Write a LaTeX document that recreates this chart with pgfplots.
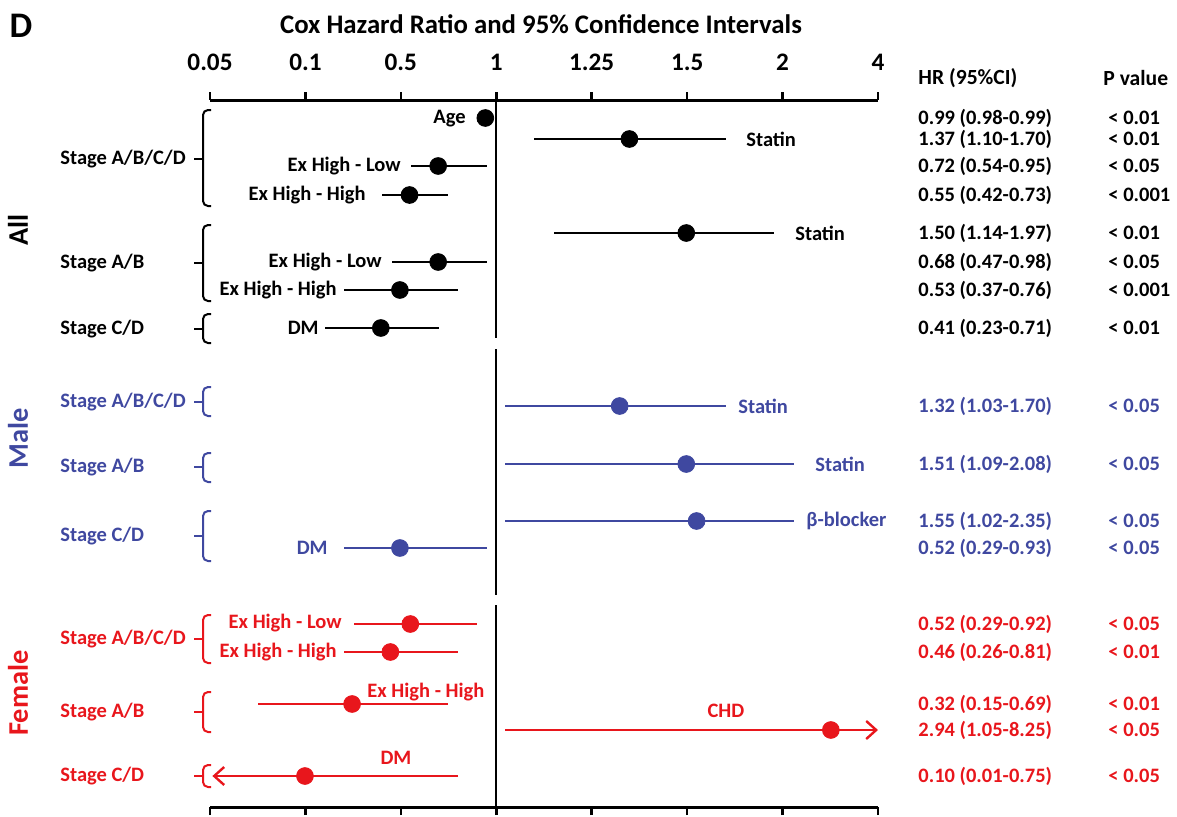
\documentclass[border=0pt]{standalone}
\usepackage{fontspec}
\setmainfont{Carlito}
\usepackage{pgfplots}
\usepackage{pgfplotstable}
\pgfplotsset{compat=1.18}
\usetikzlibrary{arrows.meta}

\definecolor{mblue}{RGB}{63,72,160}
\definecolor{fred}{RGB}{232,22,28}
\newcommand{\fs}[1]{\fontsize{#1}{#1}\selectfont\bfseries}

% x in tick-index units: 0.05=0, 0.1=1, 0.5=2, 1=3, 1.25=4, 1.5=5, 2=6, 4=7
% y = 812 - pixel row of the reference
\pgfplotstableread{
y lo hr hi
694 2.885 2.885 2.885
673 3.395 4.395 5.404
646 2.110 2.391 2.901
617 1.801 2.091 2.499
579 3.606 4.991 5.911
550 1.910 2.391 2.901
522 1.408 1.990 2.600
484 1.200 1.790 2.400
}\allrows
\pgfplotstableread{
y lo hr hi
406 3.096 4.293 5.404
348 3.096 4.991 6.120
291 3.096 5.099 6.120
264 1.408 1.990 2.901
}\malerows
\pgfplotstableread{
y lo hr hi
188 1.509 2.099 2.800
160 1.408 1.890 2.600
108 0.506 1.489 2.499
}\femrows
\pgfplotstableread{
y hr
82 6.506
36 0.995
}\femarrows

\tikzset{px/.style={x=0.5pt, y=-0.5pt, shift={(-105pt,403.5pt)}}}
\pgfplotsset{ci/.style={only marks, mark=*, mark size=4.2pt,
    error bars/.cd, x dir=both, x explicit, error mark=none,
    error bar style={line width=1.2pt}}}
\newcommand{\brk}[4]{\draw[#1, line width=1pt, rounded corners=2.5pt]
  (211,#2) -- (203,#2) -- (203,#4) -- (211,#4);
  \draw[#1, line width=1pt] (194,#3) -- (203,#3);}

\begin{document}
\begin{tikzpicture}
\begin{scope}[px]
\path[use as bounding box] (0,0) rectangle (1177,812);
\end{scope}

\begin{axis}[
    at={(0,0)}, anchor=south west,
    scale only axis, width=334pt, height=353.5pt,
    xmin=0, xmax=7, ymin=5, ymax=712,
    axis x line=box, axis y line=none,
    xtick={0,...,7},
    xticklabels={0.05,0.1,0.5,1,1.25,1.5,2,4},
    xticklabel pos=upper,
    ytick=\empty,
    tick align=outside, major tick length=4pt,
    axis line style={line width=1.5pt},
    every tick/.style={black, line width=1.3pt},
    xticklabel style={font=\fs{12.6}, yshift=7pt},
    clip=false,
]
% reference line at HR = 1
\addplot[black, line width=1.2pt] coordinates {(3,712) (3,474)};
\addplot[black, line width=1.2pt] coordinates {(3,463) (3,217)};
\addplot[black, line width=1.2pt] coordinates {(3,207) (3,5)};

\addplot[black, ci] table[x=hr, y=y,
    x error plus expr=\thisrow{hi}-\thisrow{hr},
    x error minus expr=\thisrow{hr}-\thisrow{lo}] {\allrows};
\addplot[mblue, ci] table[x=hr, y=y,
    x error plus expr=\thisrow{hi}-\thisrow{hr},
    x error minus expr=\thisrow{hr}-\thisrow{lo}] {\malerows};
\addplot[fred, ci] table[x=hr, y=y,
    x error plus expr=\thisrow{hi}-\thisrow{hr},
    x error minus expr=\thisrow{hr}-\thisrow{lo}] {\femrows};
% intervals running off the scale
\addplot[fred, line width=1.2pt, -{Straight Barb[length=5pt,width=9pt]}]
    coordinates {(3.096,82) (7.0,82)};
\addplot[fred, line width=1.2pt, -{Straight Barb[length=5pt,width=9pt]}]
    coordinates {(2.600,36) (0.025,36)};
\addplot[fred, only marks, mark=*, mark size=4.2pt] table[x=hr, y=y] {\femarrows};
\end{axis}

\begin{scope}[px]
\node[font=\fs{18}] at (21,26) {D};
\node[font=\fs{13.4}] at (541,24) {Cox Hazard Ratio and 95\% Confidence Intervals};
\node[font=\fs{10.8}, anchor=west, inner sep=0] at (918,78) {HR (95\%CI)};
\node[font=\fs{10.8}, anchor=west, inner sep=0] at (1103,78) {P value};

% group labels
\node[rotate=90, font=\fs{14.2}] at (18,230) {All};
\node[rotate=90, font=\fs{14.2}, mblue] at (18,438) {Male};
\node[rotate=90, font=\fs{14.2}, fred] at (18,693) {Female};

% brackets and stage labels
\brk{black}{110}{159}{206}
\brk{black}{225}{263}{301}
\brk{black}{314}{329}{343}
\brk{mblue}{387}{402}{416}
\brk{mblue}{453}{467}{482}
\brk{mblue}{511}{536}{561}
\brk{fred}{615}{639}{663}
\brk{fred}{692}{712}{732}
\brk{fred}{765}{776}{787}
\begin{scope}[every node/.style={font=\fs{10.25}, anchor=west, inner sep=0}]
\node at (60,159) {Stage A/B/C/D};
\node at (60,263) {Stage A/B};
\node at (60,329) {Stage C/D};
\node[mblue] at (60,402) {Stage A/B/C/D};
\node[mblue] at (60,467) {Stage A/B};
\node[mblue] at (60,536) {Stage C/D};
\node[fred] at (60,639) {Stage A/B/C/D};
\node[fred] at (60,712) {Stage A/B};
\node[fred] at (60,776) {Stage C/D};
\end{scope}

% labels beside the intervals
\begin{scope}[every node/.style={font=\fs{10.25}, inner sep=0}]
\node[anchor=east] at (466,119) {Age};
\node[anchor=west] at (746,139) {Statin};
\node[anchor=east] at (401,166) {Ex High - Low};
\node[anchor=east] at (366,195) {Ex High - High};
\node[anchor=west] at (795,233) {Statin};
\node[anchor=east] at (382,262) {Ex High - Low};
\node[anchor=east] at (337,290) {Ex High - High};
\node[anchor=east] at (319,328) {DM};
\node[anchor=west, mblue] at (738,406) {Statin};
\node[anchor=west, mblue] at (815,464) {Statin};
\node[anchor=west, mblue] at (806,521) {β-blocker};
\node[anchor=east, mblue] at (328,548) {DM};
\node[anchor=east, fred] at (342,623) {Ex High - Low};
\node[anchor=east, fred] at (337,652) {Ex High - High};
\node[anchor=west, fred] at (367,692) {Ex High - High};
\node[fred] at (726,711) {CHD};
\node[fred] at (396,758) {DM};
\end{scope}

% HR and P value columns
\begin{scope}[every node/.style={font=\fs{10.25}, anchor=west, inner sep=0}]
\node at (918,118) {0.99 (0.98-0.99)}; \node at (1108,118) {< 0.01};
\node at (918,139) {1.37 (1.10-1.70)}; \node at (1108,139) {< 0.01};
\node at (918,166) {0.72 (0.54-0.95)}; \node at (1108,166) {< 0.05};
\node at (918,195) {0.55 (0.42-0.73)}; \node at (1108,195) {< 0.001};
\node at (918,233) {1.50 (1.14-1.97)}; \node at (1108,233) {< 0.01};
\node at (918,262) {0.68 (0.47-0.98)}; \node at (1108,262) {< 0.05};
\node at (918,290) {0.53 (0.37-0.76)}; \node at (1108,290) {< 0.001};
\node at (918,328) {0.41 (0.23-0.71)}; \node at (1108,328) {< 0.01};
\node[mblue] at (918,406) {1.32 (1.03-1.70)}; \node[mblue] at (1108,406) {< 0.05};
\node[mblue] at (918,464) {1.51 (1.09-2.08)}; \node[mblue] at (1108,464) {< 0.05};
\node[mblue] at (918,521) {1.55 (1.02-2.35)}; \node[mblue] at (1108,521) {< 0.05};
\node[mblue] at (918,548) {0.52 (0.29-0.93)}; \node[mblue] at (1108,548) {< 0.05};
\node[fred] at (918,624) {0.52 (0.29-0.92)}; \node[fred] at (1108,624) {< 0.05};
\node[fred] at (918,652) {0.46 (0.26-0.81)}; \node[fred] at (1108,652) {< 0.01};
\node[fred] at (918,704) {0.32 (0.15-0.69)}; \node[fred] at (1108,704) {< 0.01};
\node[fred] at (918,730) {2.94 (1.05-8.25)}; \node[fred] at (1108,730) {< 0.05};
\node[fred] at (918,776) {0.10 (0.01-0.75)}; \node[fred] at (1108,776) {< 0.05};
\end{scope}
\end{scope}
\end{tikzpicture}
\end{document}
